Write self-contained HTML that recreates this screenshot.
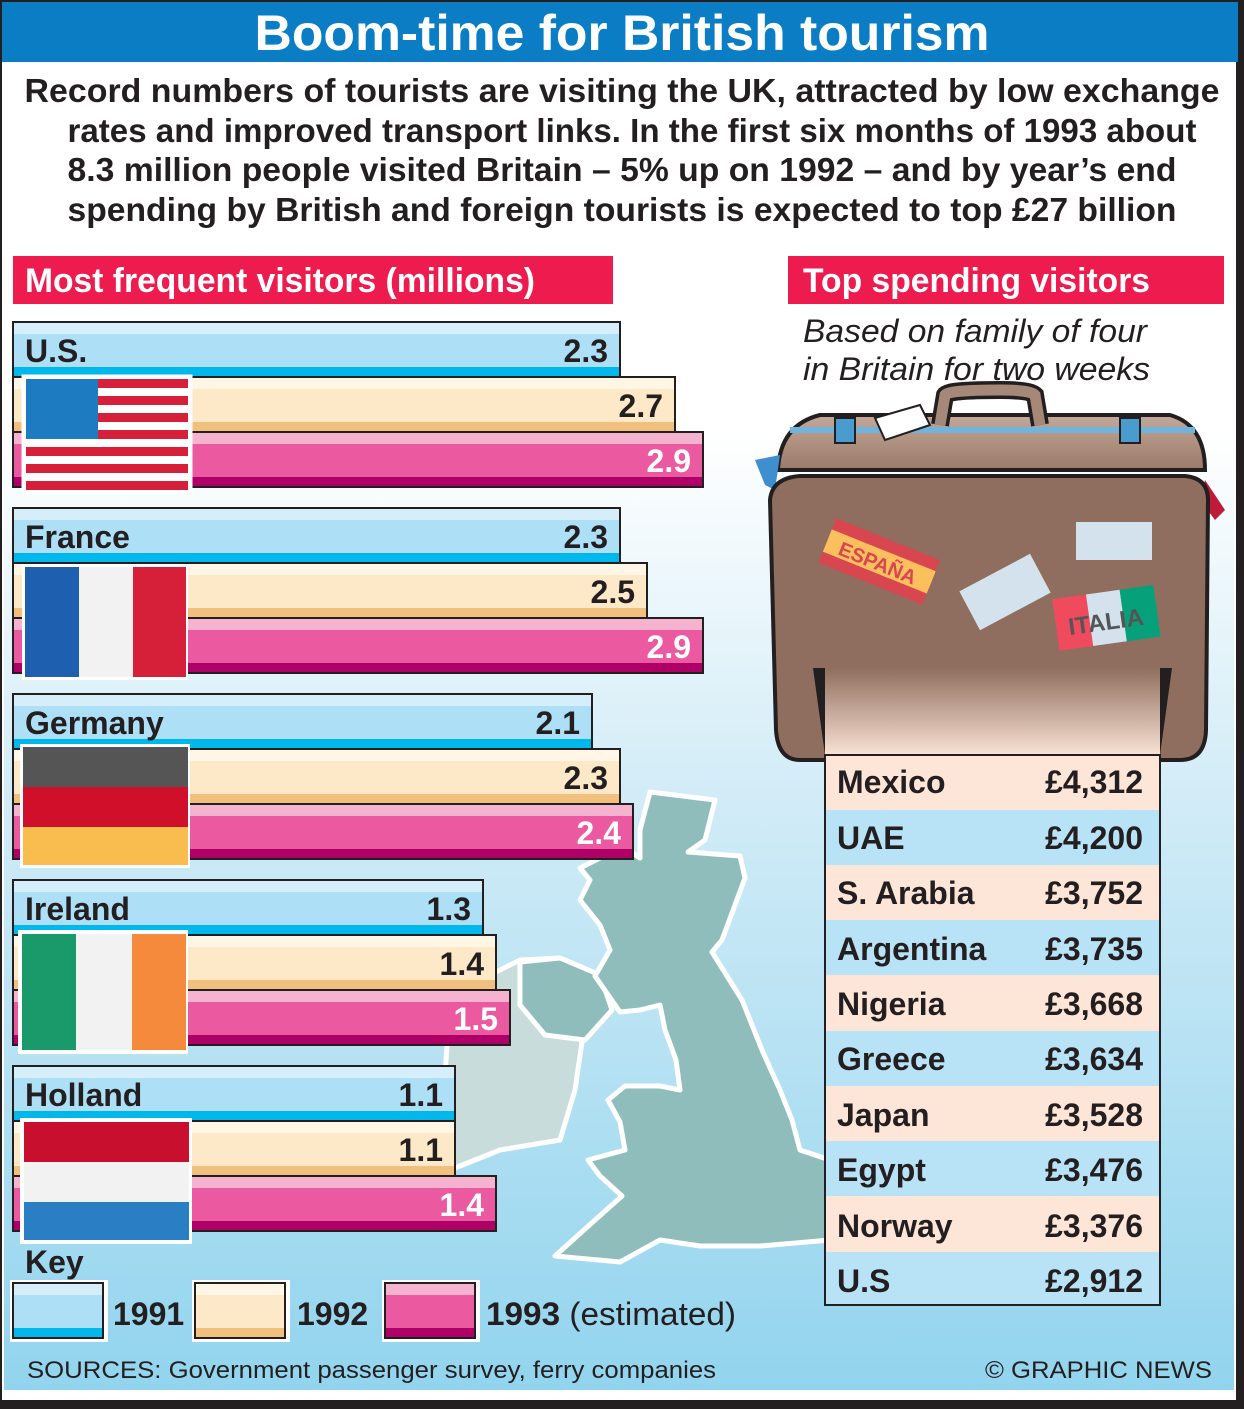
<!DOCTYPE html>
<html><head><meta charset="utf-8"><style>
html,body{margin:0;padding:0;background:#fff}
svg{display:block}
text{font-family:"Liberation Sans Narrow","Liberation Sans",sans-serif}
.b{font-weight:bold}
</style></head><body>
<svg width="1244" height="1409" viewBox="0 0 1244 1409" xmlns="http://www.w3.org/2000/svg">
<defs>
<linearGradient id="bg" x1="0" y1="0" x2="0" y2="1">
<stop offset="0" stop-color="#ffffff"/><stop offset="0.28" stop-color="#ffffff"/><stop offset="0.55" stop-color="#d2ecf7"/><stop offset="1" stop-color="#92d4ee"/></linearGradient>
<linearGradient id="tab" x1="0" y1="0" x2="0" y2="1">
<stop offset="0" stop-color="#8f6e5f"/><stop offset="1" stop-color="#fde6d8"/></linearGradient>
<linearGradient id="lid" x1="0" y1="0" x2="0" y2="1">
<stop offset="0" stop-color="#c4a899"/><stop offset="1" stop-color="#9a7a6a"/></linearGradient>
</defs>
<rect x="0" y="0" width="1244" height="1409" fill="#231f20"/>
<rect x="2" y="2" width="1234" height="1398" fill="#fff"/>
<rect x="4" y="62" width="1230" height="1328" fill="url(#bg)"/>
<rect x="2" y="2" width="1236" height="60" fill="#0a7dc5"/>
<text x="622" y="50" text-anchor="middle" class="b" font-size="50" fill="#fff" textLength="735" lengthAdjust="spacingAndGlyphs">Boom-time for British tourism</text>
<g class="b" font-size="33" fill="#231f20" text-anchor="middle">
<text x="622" y="102" textLength="1195" lengthAdjust="spacingAndGlyphs">Record numbers of  tourists are visiting the UK, attracted by low exchange</text>
<text x="632" y="142" textLength="1129" lengthAdjust="spacingAndGlyphs">rates and improved transport links. In the first six months of 1993 about</text>
<text x="622" y="181" textLength="1109" lengthAdjust="spacingAndGlyphs">8.3 million people visited Britain – 5% up on 1992 – and by year’s end</text>
<text x="622" y="221" textLength="1109" lengthAdjust="spacingAndGlyphs">spending by British and foreign tourists is expected to top £27 billion</text>
</g>
<rect x="13" y="256" width="600" height="48" fill="#ee1c4e"/>
<text x="25" y="292" class="b" font-size="34" fill="#fff" textLength="510" lengthAdjust="spacingAndGlyphs">Most frequent visitors (millions)</text>
<rect x="788" y="256" width="436" height="48" fill="#ee1c4e"/>
<text x="803" y="292" class="b" font-size="34" fill="#fff" textLength="347" lengthAdjust="spacingAndGlyphs">Top spending visitors</text>
<g font-size="32" font-style="italic" fill="#231f20">
<text x="803" y="342" textLength="344" lengthAdjust="spacingAndGlyphs">Based on family of four</text>
<text x="803" y="380" textLength="347" lengthAdjust="spacingAndGlyphs">in Britain for two weeks</text>
</g>

<!-- Map -->
<g stroke="#fff" stroke-width="5" stroke-linejoin="round">
<path d="M520,960 L560,958 L600,975 L612,1010 L582,1042 L575,1090 L560,1140 L500,1150 L455,1168 L440,1150 L450,1000 L490,975 Z" fill="#c8dcdc"/>
<path d="M520,962 L560,958 L600,975 L612,1010 L585,1040 L545,1035 L520,1005 Z" fill="#8fbdbb"/>
<path d="M650,792 L715,800 L705,840 L688,852 L740,856 L745,878 L722,940 L712,952 L742,1000 L762,1050 L780,1090 L792,1120 L800,1150 L830,1160 L830,1240 L760,1246 L700,1246 L660,1240 L620,1262 L555,1256 L595,1220 L622,1196 L600,1176 L588,1160 L625,1150 L620,1122 L608,1100 L625,1086 L660,1086 L680,1090 L676,1060 L665,1030 L660,1005 L640,1010 L620,1012 L595,976 L610,950 L600,925 L580,900 L590,880 L580,868 L600,858 L620,845 L640,858 L640,830 Z" fill="#8fbdbb"/>
</g>

<!-- Suitcase -->
<path d="M778,470 Q780,425 820,415 L1170,415 Q1205,425 1205,470 Z" fill="url(#lid)" stroke="#231f20" stroke-width="4"/>
<path d="M790,430 L1195,430" stroke="#6fb4dc" stroke-width="6"/>
<path d="M940,425 L945,395 Q948,390 1000,390 Q1030,390 1035,395 L1040,425" fill="none" stroke="#231f20" stroke-width="18"/>
<path d="M940,425 L945,395 Q948,390 1000,390 Q1030,390 1035,395 L1040,425" fill="none" stroke="#a68878" stroke-width="11"/>
<rect x="835" y="418" width="20" height="25" fill="#4a9ccf" stroke="#231f20" stroke-width="2"/>
<rect x="1120" y="418" width="20" height="25" fill="#4a9ccf" stroke="#231f20" stroke-width="2"/>
<path d="M755,460 L780,455 L775,490 L765,485 Z" fill="#3f8fd0"/>
<path d="M1205,480 L1225,510 L1215,520 L1200,500 Z" fill="#c01a3a"/>
<polygon points="875,418 920,405 930,425 885,440" fill="#fff" stroke="#231f20" stroke-width="2"/>
<path d="M770,500 Q772,478 800,476 L1185,476 Q1208,478 1208,500 L1206,730 Q1205,760 1180,760 L800,760 Q778,760 776,730 Z" fill="#8f6e5f" stroke="#231f20" stroke-width="4"/>
<g transform="rotate(22 878 562)"><rect x="823" y="537" width="112" height="48" fill="#d8474f"/><rect x="823" y="549" width="112" height="24" fill="#fcbf5e"/><text x="878" y="570" text-anchor="middle" font-size="20" class="b" fill="#d8474f">ESPAÑA</text></g>
<rect x="1076" y="522" width="76" height="38" fill="#d3e2ec"/>
<g transform="rotate(-28 1005 592)"><rect x="965" y="570" width="80" height="44" fill="#d3e2ec"/></g>
<g transform="rotate(-8 1105 615)"><rect x="1055" y="592" width="34" height="52" fill="#ef4a5e"/><rect x="1089" y="592" width="34" height="52" fill="#d3e2ec"/><rect x="1123" y="592" width="34" height="52" fill="#06a07a"/><text x="1105" y="630" text-anchor="middle" font-size="24" font-family="Liberation Serif" class="b" fill="#555">ITALIA</text></g>
<path d="M813,668 L825,668 L825,755 Z M1160,668 L1172,668 L1160,755 Z" fill="#231f20"/>
<rect x="825" y="668" width="335" height="90" fill="url(#tab)"/>
<!-- Table -->
<g class="b" font-size="32" fill="#231f20">
<rect x="825" y="755" width="335" height="550" fill="#fde6d8" stroke="#231f20" stroke-width="2"/>
<rect x="826" y="810" width="333" height="55" fill="#b8e2f5"/>
<rect x="826" y="920" width="333" height="55" fill="#b8e2f5"/>
<rect x="826" y="1031" width="333" height="55" fill="#b8e2f5"/>
<rect x="826" y="1141" width="333" height="55" fill="#b8e2f5"/>
<rect x="826" y="1252" width="333" height="52" fill="#b8e2f5"/>
<text x="837" y="793">Mexico</text><text x="1143" y="793" text-anchor="end">£4,312</text>
<text x="837" y="849">UAE</text><text x="1143" y="849" text-anchor="end">£4,200</text>
<text x="837" y="904">S. Arabia</text><text x="1143" y="904" text-anchor="end">£3,752</text>
<text x="837" y="960">Argentina</text><text x="1143" y="960" text-anchor="end">£3,735</text>
<text x="837" y="1015">Nigeria</text><text x="1143" y="1015" text-anchor="end">£3,668</text>
<text x="837" y="1070">Greece</text><text x="1143" y="1070" text-anchor="end">£3,634</text>
<text x="837" y="1126">Japan</text><text x="1143" y="1126" text-anchor="end">£3,528</text>
<text x="837" y="1181">Egypt</text><text x="1143" y="1181" text-anchor="end">£3,476</text>
<text x="837" y="1237">Norway</text><text x="1143" y="1237" text-anchor="end">£3,376</text>
<text x="837" y="1292">U.S</text><text x="1143" y="1292" text-anchor="end">£2,912</text>
</g>

<!-- Bars -->
<g id="bars" class="b" font-size="32">
<g transform="translate(0,322)">
<rect x="13" y="0" width="607" height="55" fill="#ade0f7" stroke="#231f20" stroke-width="2"/><rect x="14" y="1" width="605" height="11" fill="#d5eef9"/><rect x="14" y="45" width="605" height="9" fill="#00b8eb"/>
<rect x="13" y="55" width="662" height="55" fill="#fde8c8" stroke="#231f20" stroke-width="2"/><rect x="14" y="56" width="660" height="11" fill="#fff6e6"/><rect x="14" y="100" width="660" height="9" fill="#f2c07e"/>
<rect x="13" y="110" width="690" height="55" fill="#eb5aa0" stroke="#231f20" stroke-width="2"/><rect x="14" y="111" width="688" height="11" fill="#f6b3d0"/><rect x="14" y="155" width="688" height="9" fill="#ae0066"/>
<text x="25" y="40" fill="#231f20">U.S.</text><text x="608" y="40" text-anchor="end" fill="#231f20">2.3</text><text x="663" y="95" text-anchor="end" fill="#231f20">2.7</text><text x="691" y="150" text-anchor="end" fill="#fff">2.9</text>
<g stroke="#fff" stroke-width="5"><rect x="24" y="55" width="166" height="115" fill="#fff"/></g>
<rect x="26" y="57" width="162" height="111" fill="#fff"/>
<g fill="#d6203a"><rect x="26" y="57" width="162" height="9"/><rect x="26" y="74" width="162" height="9"/><rect x="26" y="91" width="162" height="9"/><rect x="26" y="108" width="162" height="9"/><rect x="26" y="125" width="162" height="9"/><rect x="26" y="142" width="162" height="9"/><rect x="26" y="159" width="162" height="9"/></g>
<rect x="26" y="57" width="72" height="60" fill="#1d7bc2"/>
</g>
<g transform="translate(0,508)">
<rect x="13" y="0" width="607" height="55" fill="#ade0f7" stroke="#231f20" stroke-width="2"/><rect x="14" y="1" width="605" height="11" fill="#d5eef9"/><rect x="14" y="45" width="605" height="9" fill="#00b8eb"/>
<rect x="13" y="55" width="634" height="55" fill="#fde8c8" stroke="#231f20" stroke-width="2"/><rect x="14" y="56" width="632" height="11" fill="#fff6e6"/><rect x="14" y="100" width="632" height="9" fill="#f2c07e"/>
<rect x="13" y="110" width="690" height="55" fill="#eb5aa0" stroke="#231f20" stroke-width="2"/><rect x="14" y="111" width="688" height="11" fill="#f6b3d0"/><rect x="14" y="155" width="688" height="9" fill="#ae0066"/>
<text x="25" y="40" fill="#231f20">France</text><text x="608" y="40" text-anchor="end" fill="#231f20">2.3</text><text x="635" y="95" text-anchor="end" fill="#231f20">2.5</text><text x="691" y="150" text-anchor="end" fill="#fff">2.9</text>
<rect x="22" y="56" width="166" height="116" fill="#fff"/>
<rect x="25" y="59" width="54" height="110" fill="#1e5fb0"/><rect x="79" y="59" width="54" height="110" fill="#f2f2f2"/><rect x="133" y="59" width="53" height="110" fill="#d6203a"/>
</g>
<g transform="translate(0,694)">
<rect x="13" y="0" width="579" height="55" fill="#ade0f7" stroke="#231f20" stroke-width="2"/><rect x="14" y="1" width="577" height="11" fill="#d5eef9"/><rect x="14" y="45" width="577" height="9" fill="#00b8eb"/>
<rect x="13" y="55" width="607" height="55" fill="#fde8c8" stroke="#231f20" stroke-width="2"/><rect x="14" y="56" width="605" height="11" fill="#fff6e6"/><rect x="14" y="100" width="605" height="9" fill="#f2c07e"/>
<rect x="13" y="110" width="620" height="55" fill="#eb5aa0" stroke="#231f20" stroke-width="2"/><rect x="14" y="111" width="618" height="11" fill="#f6b3d0"/><rect x="14" y="155" width="618" height="9" fill="#ae0066"/>
<text x="25" y="40" fill="#231f20">Germany</text><text x="580" y="40" text-anchor="end" fill="#231f20">2.1</text><text x="608" y="95" text-anchor="end" fill="#231f20">2.3</text><text x="621" y="150" text-anchor="end" fill="#fff">2.4</text>
<rect x="20" y="50" width="170" height="124" fill="#fff"/>
<rect x="23" y="53" width="165" height="40" fill="#555"/><rect x="23" y="93" width="165" height="40" fill="#d0102a"/><rect x="23" y="133" width="165" height="38" fill="#f9bd4f"/>
</g>
<g transform="translate(0,880)">
<rect x="13" y="0" width="470" height="55" fill="#ade0f7" stroke="#231f20" stroke-width="2"/><rect x="14" y="1" width="468" height="11" fill="#d5eef9"/><rect x="14" y="45" width="468" height="9" fill="#00b8eb"/>
<rect x="13" y="55" width="483" height="55" fill="#fde8c8" stroke="#231f20" stroke-width="2"/><rect x="14" y="56" width="481" height="11" fill="#fff6e6"/><rect x="14" y="100" width="481" height="9" fill="#f2c07e"/>
<rect x="13" y="110" width="497" height="55" fill="#eb5aa0" stroke="#231f20" stroke-width="2"/><rect x="14" y="111" width="495" height="11" fill="#f6b3d0"/><rect x="14" y="155" width="495" height="9" fill="#ae0066"/>
<text x="25" y="40" fill="#231f20">Ireland</text><text x="471" y="40" text-anchor="end" fill="#231f20">1.3</text><text x="484" y="95" text-anchor="end" fill="#231f20">1.4</text><text x="498" y="150" text-anchor="end" fill="#fff">1.5</text>
<rect x="18" y="50" width="170" height="124" fill="#fff"/>
<rect x="22" y="54" width="54" height="116" fill="#1a9a6b"/><rect x="76" y="54" width="56" height="116" fill="#f2f2f2"/><rect x="132" y="54" width="54" height="116" fill="#f58a3c"/>
</g>
<g transform="translate(0,1066)">
<rect x="13" y="0" width="442" height="55" fill="#ade0f7" stroke="#231f20" stroke-width="2"/><rect x="14" y="1" width="440" height="11" fill="#d5eef9"/><rect x="14" y="45" width="440" height="9" fill="#00b8eb"/>
<rect x="13" y="55" width="442" height="55" fill="#fde8c8" stroke="#231f20" stroke-width="2"/><rect x="14" y="56" width="440" height="11" fill="#fff6e6"/><rect x="14" y="100" width="440" height="9" fill="#f2c07e"/>
<rect x="13" y="110" width="483" height="55" fill="#eb5aa0" stroke="#231f20" stroke-width="2"/><rect x="14" y="111" width="481" height="11" fill="#f6b3d0"/><rect x="14" y="155" width="481" height="9" fill="#ae0066"/>
<text x="25" y="40" fill="#231f20">Holland</text><text x="443" y="40" text-anchor="end" fill="#231f20">1.1</text><text x="443" y="95" text-anchor="end" fill="#231f20">1.1</text><text x="484" y="150" text-anchor="end" fill="#fff">1.4</text>
<rect x="20" y="52" width="172" height="126" fill="#fff"/>
<rect x="24" y="56" width="165" height="40" fill="#c8102e"/><rect x="24" y="96" width="165" height="40" fill="#f2f2f2"/><rect x="24" y="136" width="165" height="38" fill="#2a7fc4"/>
</g>
</g>

<!-- Key -->
<text x="25" y="1273" class="b" font-size="32" fill="#231f20">Key</text>
<rect x="10" y="1280" width="98" height="62" fill="#fff"/>
<rect x="13" y="1283" width="90" height="55" fill="#ade0f7" stroke="#231f20" stroke-width="2"/><rect x="14" y="1284" width="88" height="11" fill="#d5eef9"/><rect x="14" y="1328" width="88" height="9" fill="#00b8eb"/>
<rect x="192" y="1280" width="98" height="62" fill="#fff"/>
<rect x="195" y="1283" width="90" height="55" fill="#fde8c8" stroke="#231f20" stroke-width="2"/><rect x="196" y="1284" width="88" height="11" fill="#fff6e6"/><rect x="196" y="1328" width="88" height="9" fill="#f2c07e"/>
<rect x="382" y="1280" width="98" height="62" fill="#fff"/>
<rect x="385" y="1283" width="90" height="55" fill="#eb5aa0" stroke="#231f20" stroke-width="2"/><rect x="386" y="1284" width="88" height="11" fill="#f6b3d0"/><rect x="386" y="1328" width="88" height="9" fill="#ae0066"/>
<g font-size="32" fill="#231f20">
<text x="113" y="1325" class="b">1991</text>
<text x="297" y="1325" class="b">1992</text>
<text x="486" y="1325" textLength="250" lengthAdjust="spacingAndGlyphs"><tspan class="b">1993</tspan> (estimated)</text>
</g>
<g font-size="24" fill="#231f20">
<text x="27" y="1378" textLength="689" lengthAdjust="spacingAndGlyphs">SOURCES: Government passenger survey, ferry companies</text>
<text x="985" y="1378" textLength="227" lengthAdjust="spacingAndGlyphs">© GRAPHIC NEWS</text>
</g>
</svg>
</body></html>
